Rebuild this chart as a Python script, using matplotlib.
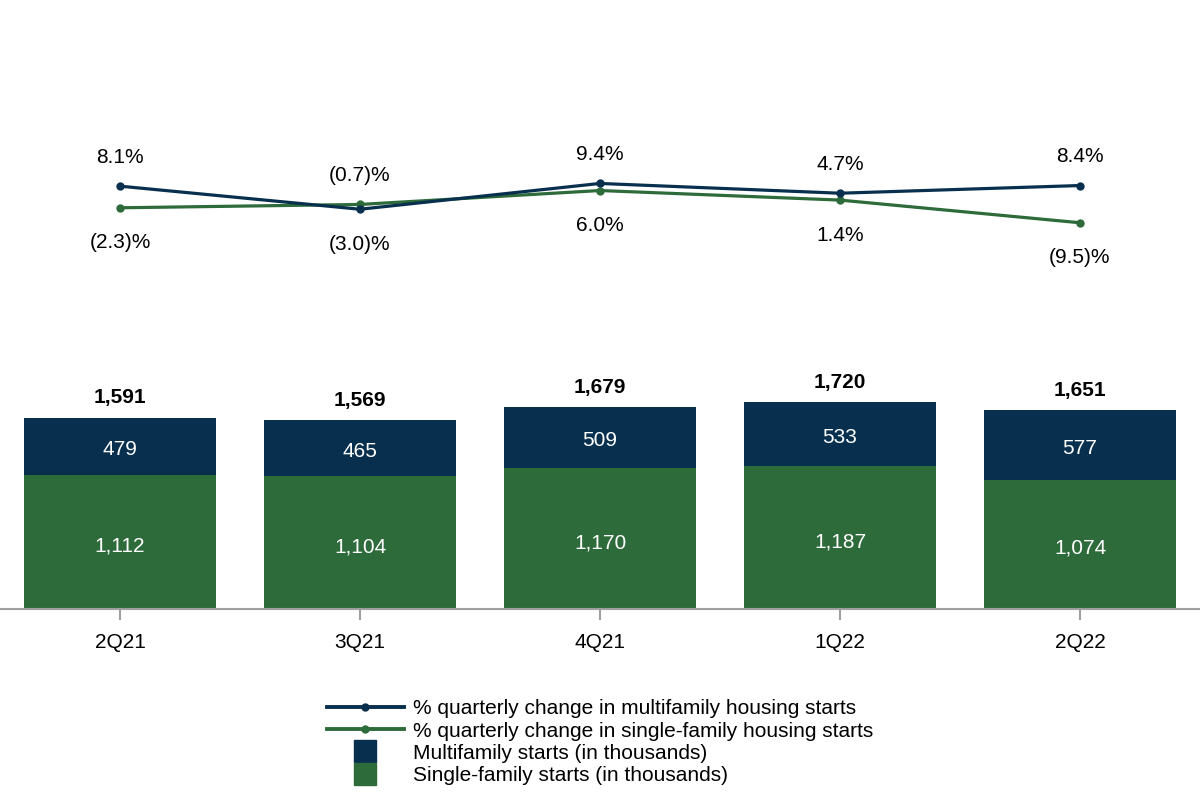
import matplotlib
matplotlib.use('Agg')
import matplotlib.pyplot as plt
from matplotlib.lines import Line2D

plt.rcParams['font.family'] = ['Liberation Sans', 'DejaVu Sans']

# ─── DONNÉES ──────────────────────────────────────────────────────────────────
quarters = ["2Q21", "3Q21", "4Q21", "1Q22", "2Q22"]
single_starts = [1112, 1104, 1170, 1187, 1074]
multi_starts = [479, 465, 509, 533, 577]
totals = [1591, 1569, 1679, 1720, 1651]
multi_pct = [8.1, -3.0, 9.4, 4.7, 8.4]
single_pct = [-2.3, -0.7, 6.0, 1.4, -9.5]

NAVY = "#08304e"
GREEN = "#2e6b3a"
GRAY = "#9e9e9e"
FS = 15


def fmt_pct(v):
    return f"({abs(v):.1f})%" if v < 0 else f"{v:.1f}%"


fig = plt.figure(figsize=(12, 8), dpi=100)
ax = fig.add_axes([0, 191 / 800, 1, 609 / 800])

x = list(range(len(quarters)))
ax.bar(x, single_starts, width=0.8, color=GREEN, zorder=2)
ax.bar(x, multi_starts, width=0.8, bottom=single_starts, color=NAVY, zorder=2)

for i in x:
    ax.annotate(f"{single_starts[i]:,}", xy=(i, single_starts[i] / 2), xytext=(0, -4),
                textcoords='offset pixels', ha='center', va='center',
                color='white', fontsize=FS)
    ax.annotate(f"{multi_starts[i]:,}", xy=(i, single_starts[i] + multi_starts[i] / 2),
                xytext=(0, -3), textcoords='offset pixels', ha='center', va='center',
                color='white', fontsize=FS)
    ax.annotate(f"{totals[i]:,}", xy=(i, totals[i]), xytext=(0, 20),
                textcoords='offset pixels', ha='center', va='center',
                fontsize=FS, fontweight='bold')

ax.set_xlim(-0.5, len(quarters) - 0.5)
ax.set_ylim(0, 609 / 0.1203)
ax.set_xticks(x)
ax.set_xticklabels(quarters, fontsize=FS)
ax.tick_params(axis='x', length=8, width=1.5, color=GRAY, pad=9)
ax.set_yticks([])
for s in ['top', 'right', 'left']:
    ax.spines[s].set_visible(False)
ax.spines['bottom'].set_color(GRAY)
ax.spines['bottom'].set_linewidth(1.5)

# ─── COURBES (% variation trimestrielle) ──────────────────────────────────────
ax2 = ax.twinx()
ax2.set_ylim((203 - 609) / 2.08, 203 / 2.08)
ax2.axis('off')

ax2.plot(x, single_pct, '-o', color=GREEN, lw=2.3, markersize=5, zorder=3)
ax2.plot(x, multi_pct, '-o', color=NAVY, lw=2.3, markersize=5, zorder=4)

for i in x:
    m, s = multi_pct[i], single_pct[i]
    m_off, s_off = (29, -35) if m >= s else (-35, 29)
    ax2.annotate(fmt_pct(m), xy=(i, m), xytext=(0, m_off), textcoords='offset pixels',
                 ha='center', va='center', fontsize=FS)
    ax2.annotate(fmt_pct(s), xy=(i, s), xytext=(0, s_off), textcoords='offset pixels',
                 ha='center', va='center', fontsize=FS)

# ─── LÉGENDE ──────────────────────────────────────────────────────────────────
handles = [
    Line2D([], [], color=NAVY, lw=2.8, marker='o', markersize=5),
    Line2D([], [], color=GREEN, lw=2.8, marker='o', markersize=5),
    Line2D([], [], color=NAVY, lw=0, marker='s', markersize=15.5),
    Line2D([], [], color=GREEN, lw=0, marker='s', markersize=15.5),
]
labels = [
    "% quarterly change in multifamily housing starts",
    "% quarterly change in single-family housing starts",
    "Multifamily starts (in thousands)",
    "Single-family starts (in thousands)",
]
fig.legend(handles, labels, loc='upper center', bbox_to_anchor=(0.5, 1 - 689 / 800),
           frameon=False, fontsize=FS, handlelength=3.7, handletextpad=0.43,
           labelspacing=0.15, borderpad=0)

plt.savefig("out.png", dpi=100)
plt.close()
